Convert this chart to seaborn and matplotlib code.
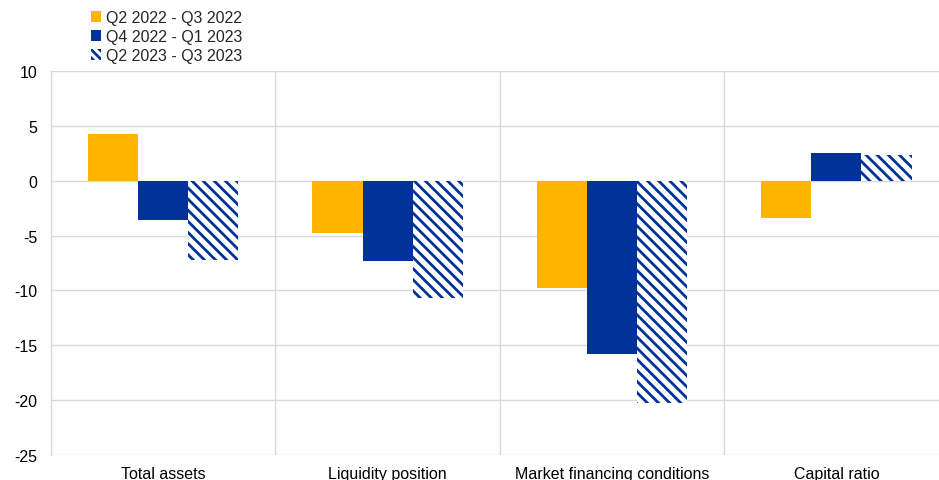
import pandas as pd
import seaborn as sns
import matplotlib.pyplot as plt
from matplotlib.patches import Patch

# Data
categories = ["Total assets", "Liquidity position", "Market financing conditions", "Capital ratio"]
periods = ["Q2 2022 - Q3 2022", "Q4 2022 - Q1 2023", "Q2 2023 - Q3 2023"]
q2_22_q3_22 = [4.3, -4.8, -9.8, -3.4]
q4_22_q1_23 = [-3.6, -7.3, -15.8, 2.5]
q2_23_q3_23 = [-7.2, -10.7, -20.3, 2.3]

orange = "#FFB400"
blue = "#003299"
grid_col = "#d9d9d9"

data = pd.DataFrame({
    "category": categories * 3,
    "period": [periods[0]] * 4 + [periods[1]] * 4 + [periods[2]] * 4,
    "value": q2_22_q3_22 + q4_22_q1_23 + q2_23_q3_23,
})

sns.set_style("white")
plt.rcParams["font.family"] = ["Liberation Sans", "DejaVu Sans"]
plt.rcParams["hatch.linewidth"] = 2.0
plt.rcParams["axes.unicode_minus"] = False

fig = plt.figure(figsize=(9.39, 4.81), dpi=100)
ax = fig.add_axes([51 / 939, 25 / 481, 897.6 / 939, 384 / 481])

sns.barplot(data=data, x="category", y="value", hue="period",
            palette=[orange, blue, "white"], width=0.67, ax=ax,
            saturation=1, legend=False, zorder=3)

# hatched third series
for bar in ax.containers[2]:
    bar.set_hatch("\\\\\\")
    bar.set_edgecolor(blue)
    bar.set_linewidth(0)
for bar in list(ax.containers[0]) + list(ax.containers[1]):
    bar.set_linewidth(0)

ax.set_ylim(-25, 10)
ax.set_yticks(range(-25, 11, 5))
ax.set_xlim(-0.5, 3.5)
ax.yaxis.grid(True, color=grid_col, linewidth=1, zorder=0)
for x in [0.5, 1.5, 2.5]:
    ax.axvline(x, color=grid_col, linewidth=1, zorder=0)

for s in ["top", "right", "bottom"]:
    ax.spines[s].set_visible(False)
ax.spines["left"].set_color(grid_col)
ax.spines["left"].set_linewidth(1)

ax.tick_params(axis="both", length=0, labelsize=11.5, colors="black")
ax.tick_params(axis="y", pad=10)
ax.tick_params(axis="x", pad=8)
ax.set_xlabel("")
ax.set_ylabel("")

handles = [
    Patch(facecolor=orange, edgecolor="none"),
    Patch(facecolor=blue, edgecolor="none"),
    Patch(facecolor="white", edgecolor=blue, hatch="\\\\\\\\", linewidth=0),
]
fig.legend(handles, periods, loc="upper left", bbox_to_anchor=(80 / 939, 1.0),
           frameon=False, fontsize=11.5, handlelength=0.6, handleheight=0.6,
           handletextpad=0.3, labelspacing=0.25, borderaxespad=0.3)

fig.savefig("out.png", dpi=100)
